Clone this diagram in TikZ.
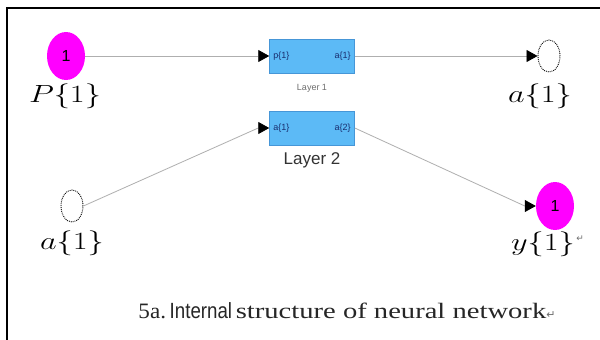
\documentclass[tikz,border=0pt]{standalone}
\usepackage{fontspec}
\usepackage{graphicx}
\setmainfont{Liberation Serif}
\setsansfont{Liberation Sans}
\newfontfamily\dejavu{DejaVu Sans}
\usetikzlibrary{arrows.meta,shapes.geometric}
\definecolor{pinkfill}{RGB}{255,0,255}
\definecolor{boxfill}{RGB}{92,186,246}
\definecolor{boxline}{RGB}{70,150,215}
\definecolor{wiregray}{RGB}{175,175,175}
\definecolor{portblue}{RGB}{25,45,110}
\definecolor{labgray}{RGB}{110,110,110}
\newcommand{\mlab}[1]{\scalebox{1.3}[1]{$#1$}}
\tikzset{
  pinnode/.style={ellipse,fill=pinkfill,draw=none,minimum width=38pt,minimum height=48pt,inner sep=0pt,font=\sffamily\fontsize{16}{16}\selectfont},
  dashnode/.style={ellipse,draw=black,densely dotted,line width=0.9pt,minimum width=22pt,minimum height=32pt,inner sep=0pt},
  layerbox/.style={rectangle,fill=boxfill,draw=boxline,line width=0.5pt,minimum width=85pt,minimum height=34pt,inner sep=0pt},
  portlbl/.style={font=\sffamily\fontsize{9}{9}\selectfont,text=portblue,inner sep=0pt},
  mathlbl/.style={font=\fontsize{24}{28}\selectfont,inner sep=0pt},
  conn/.style={draw=wiregray,line width=0.8pt,-{Triangle[length=11pt,width=12pt,color=black]}},
  frameline/.style={draw=black,line width=2pt}
}
\begin{document}
\begin{tikzpicture}[x=1pt,y=-1pt]
\useasboundingbox (0,0) rectangle (600,340);
\fill[white] (0,0) rectangle (600,340);
\draw[frameline] (7,340) -- (7,8) -- (600,8);
% nodes
\node[pinnode] (p) at (66,56) {1};
\node[mathlbl] (plbl) at (65,96) {\mlab{P\{1\}}};
\node[layerbox] (b1) at (312,56) {};
\node[portlbl,anchor=west] (b1in) at ([xshift=4pt]b1.west) {p\{1\}};
\node[portlbl,anchor=east] (b1out) at ([xshift=-4pt]b1.east) {a\{1\}};
\node[font=\sffamily\fontsize{9}{9}\selectfont,text=labgray] (l1) at (312,88) {Layer 1};
\node[dashnode] (d1) at (549,56) {};
\node[mathlbl] (d1lbl) at (540,96) {\mlab{a\{1\}}};
\node[layerbox] (b2) at (312,128) {};
\node[portlbl,anchor=west] (b2in) at ([xshift=4pt]b2.west) {a\{1\}};
\node[portlbl,anchor=east] (b2out) at ([xshift=-4pt]b2.east) {a\{2\}};
\node[font=\sffamily\fontsize{17}{17}\selectfont,text=black!80] (l2) at (312,160) {Layer 2};
\node[dashnode] (d2) at (72,206) {};
\node[mathlbl] (d2lbl) at (72,243) {\mlab{a\{1\}}};
\node[pinnode] (y) at (555,206) {1};
\node[mathlbl] (ylbl) at (543,244) {\mlab{y\{1\}}};
\node[font=\dejavu\fontsize{9}{9}\selectfont,text=labgray,anchor=west,inner sep=0pt] (yret) at ([yshift=5pt,xshift=1pt]ylbl.east) {↵};
\node[inner sep=0pt,text=black!85] (cap) at (347,311) {\fontsize{22}{24}\selectfont\scalebox{1.05}[1]{5a.}\,{\sffamily\scalebox{0.85}[1]{Internal}}\,\scalebox{1.3}[1]{structure of neural network}{\dejavu\fontsize{11}{11}\selectfont\textcolor{labgray}{↵}}};
% connectors
\draw[conn] (p.east) -- (b1.west);
\draw[conn] (b1.east) -- (d1.west);
\draw[conn] (d2.east) -- ([xshift=-11pt]b2.west) -- (b2.west);
\draw[conn] (b2.east) -- ([xshift=-11pt]y.west) -- (y.west);
\end{tikzpicture}
\end{document}
